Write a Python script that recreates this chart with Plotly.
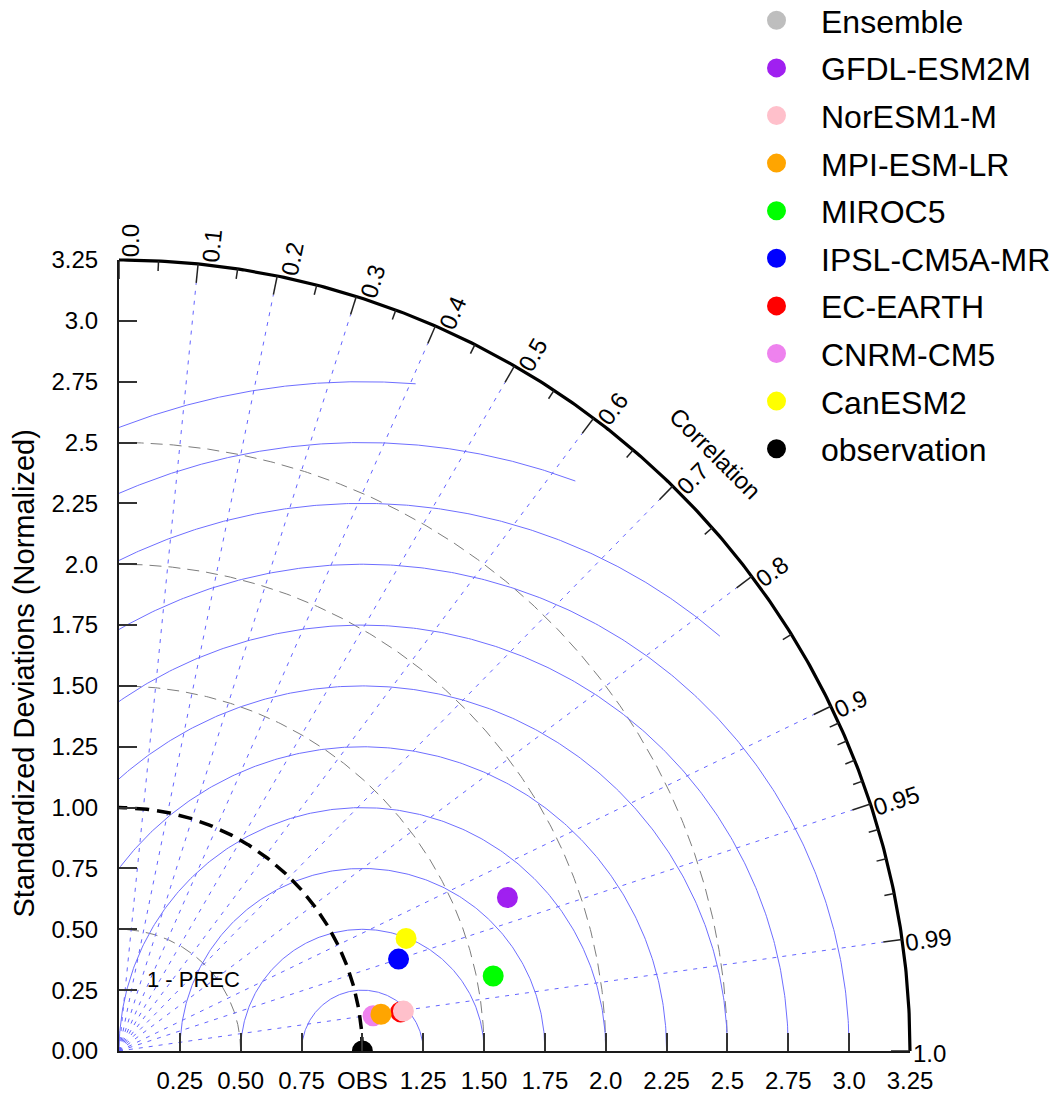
import numpy as np
import plotly.graph_objects as go

# ---------------- data (normalized standard deviation, correlation) ----------------
model_names = ["observation", "CanESM2", "CNRM-CM5", "EC-EARTH", "IPSL-CM5A-MR",
               "MIROC5", "MPI-ESM-LR", "NorESM1-M", "GFDL-ESM2M", "Ensemble"]
std_ratio = [1.000, 1.267, 1.054, 1.168, 1.209, 1.568, 1.087, 1.180, 1.716, None]
correlation = [1.000, 0.931, 0.9905, 0.9905, 0.950, 0.9805, 0.9903, 0.9903, 0.930, None]
model_colors = ["#000000", "#FFFF00", "#EE82EE", "#FF0000", "#0000FF",
                "#00FF00", "#FFA500", "#FFC0CB", "#A020F0", "#BEBEBE"]

# ---------------- axes / grid definitions ----------------
y_tick_vals = [0.0, 0.25, 0.5, 0.75, 1.0, 1.25, 1.5, 1.75, 2.0, 2.25, 2.5, 2.75, 3.0, 3.25]
y_tick_text = ["0.00", "0.25", "0.50", "0.75", "1.00", "1.25", "1.50", "1.75",
               "2.0", "2.25", "2.5", "2.75", "3.0", "3.25"]
x_tick_vals = [0.25, 0.5, 0.75, 1.0, 1.25, 1.5, 1.75, 2.0, 2.25, 2.5, 2.75, 3.0, 3.25]
x_tick_text = ["0.25", "0.50", "0.75", "OBS", "1.25", "1.50", "1.75",
               "2.0", "2.25", "2.5", "2.75", "3.0", "3.25"]
corr_major = [0.0, 0.1, 0.2, 0.3, 0.4, 0.5, 0.6, 0.7, 0.8, 0.9, 0.95, 0.99, 1.0]
corr_major_text = ["0.0", "0.1", "0.2", "0.3", "0.4", "0.5", "0.6", "0.7", "0.8",
                   "0.9", "0.95", "0.99", "1.0"]
corr_minor = [0.05, 0.15, 0.25, 0.35, 0.45, 0.55, 0.65, 0.75, 0.85,
              0.91, 0.92, 0.93, 0.94, 0.96, 0.97, 0.98]
corr_rays = [0.1, 0.2, 0.3, 0.4, 0.5, 0.6, 0.7, 0.8, 0.9, 0.95, 0.99]
rms_radii = [0.25, 0.5, 0.75, 1.0, 1.25, 1.5, 1.75, 2.0, 2.25, 2.5, 2.75]
rms_clip = 3.0
std_arcs = [0.5, 1.5, 2.0, 2.5]
std_ref = 1.0
R_MAX = 3.25

# ---------------- page geometry ----------------
W, H = 1058, 1097
OX, OY = 119.0, 1051.0          # pixel position of the origin
S = 791.0 / R_MAX               # pixels per unit
FONT = "Liberation Sans, Arial, Helvetica, sans-serif"

def px(v):
    return v / S

fig = go.Figure()

# ---------- decorations on the full-page axes (x, y) ----------
t = np.linspace(0, np.pi / 2, 300)

# gray dashed std arcs
gx, gy = [], []
for r in std_arcs:
    gx += list(r * np.cos(t)) + [None]
    gy += list(r * np.sin(t)) + [None]
fig.add_trace(go.Scatter(x=gx, y=gy, mode="lines", hoverinfo="skip", showlegend=False,
                         line=dict(color="rgb(125,125,125)", width=1, dash="12px,7px")))

# RMS arcs around OBS
bx, by = [], []
for r in rms_radii:
    phi_hi = np.pi if r <= 1 else np.arccos(-1.0 / r)
    c_lo = (rms_clip ** 2 - 1 - r ** 2) / (2 * r)
    phi_lo = 0.0 if c_lo >= 1 else np.arccos(c_lo)
    ph = np.linspace(phi_lo, phi_hi, 300)
    bx += list(1 + r * np.cos(ph)) + [None]
    by += list(r * np.sin(ph)) + [None]
fig.add_trace(go.Scatter(x=bx, y=by, mode="lines", hoverinfo="skip", showlegend=False,
                         line=dict(color="rgb(110,110,255)", width=1)))

# correlation rays
maj_len = px(19)
min_len = px(10)
rx, ry = [], []
for c in corr_rays:
    th = np.arccos(c)
    rx += [0, (R_MAX - maj_len) * np.cos(th), None]
    ry += [0, (R_MAX - maj_len) * np.sin(th), None]
fig.add_trace(go.Scatter(x=rx, y=ry, mode="lines", hoverinfo="skip", showlegend=False,
                         line=dict(color="rgb(100,100,255)", width=1, dash="4px,6px")))

# reference std arc (thick black dashed)
fig.add_trace(go.Scatter(x=std_ref * np.cos(t), y=std_ref * np.sin(t), mode="lines",
                         hoverinfo="skip", showlegend=False,
                         line=dict(color="black", width=3.5, dash="14px,8px")))

# outer arc
fig.add_trace(go.Scatter(x=R_MAX * np.cos(t), y=R_MAX * np.sin(t), mode="lines",
                         hoverinfo="skip", showlegend=False,
                         line=dict(color="black", width=3.2)))

# correlation ticks
tx, ty = [], []
for c in corr_major:
    th = np.arccos(c)
    tx += [(R_MAX - maj_len) * np.cos(th), R_MAX * np.cos(th), None]
    ty += [(R_MAX - maj_len) * np.sin(th), R_MAX * np.sin(th), None]
for c in corr_minor:
    th = np.arccos(c)
    tx += [(R_MAX - min_len) * np.cos(th), R_MAX * np.cos(th), None]
    ty += [(R_MAX - min_len) * np.sin(th), R_MAX * np.sin(th), None]
fig.add_trace(go.Scatter(x=tx, y=ty, mode="lines", hoverinfo="skip", showlegend=False,
                         line=dict(color="#222222", width=1.5)))

# ---------- model markers on the inner axes (x2, y2) ----------
n_models = len(model_names)
for i, (name, s, c, col) in enumerate(zip(model_names, std_ratio, correlation, model_colors)):
    if s is None:
        xs, ys = [None], [None]
    else:
        th = np.arccos(c)
        xs, ys = [s * np.cos(th)], [s * np.sin(th)]
    fig.add_trace(go.Scatter(x=xs, y=ys, mode="markers", name=name,
                             xaxis="x2", yaxis="y2", legendgroup=name,
                             legendrank=1000 + (n_models - i),
                             marker=dict(color=col, size=18, line=dict(color=col, width=3))))

# ---------- annotations ----------
ann = []
label_size = 24
for c, lab in zip(corr_major, corr_major_text):
    th = np.arccos(c)
    wpx = sum(0.278 if ch == "." else 0.556 for ch in lab) * label_size
    rc = R_MAX + px(2.5) + px(wpx) / 2
    perp = px(2 + 9.5 * np.sin(th))
    cx = rc * np.cos(th) + perp * np.sin(th)
    cy = rc * np.sin(th) - perp * np.cos(th)
    ann.append(dict(x=cx, y=cy, xref="x", yref="y", text=lab, showarrow=False,
                    textangle=-np.degrees(th), xanchor="center", yanchor="middle",
                    font=dict(size=label_size, color="black", family=FONT)))
ann.append(dict(x=2.451, y=2.457, xref="x", yref="y", text="Correlation", showarrow=False,
                textangle=45, xanchor="center", yanchor="middle",
                font=dict(size=24, color="black", family=FONT)))
ann.append(dict(x=0.308, y=0.292, xref="x", yref="y", text="1 - PREC", showarrow=False,
                xanchor="center", yanchor="middle",
                font=dict(size=22, color="black", family=FONT)))
ann.append(dict(x=23 / W, y=1 - 673.5 / H, xref="paper", yref="paper",
                text="Standardized Deviations (Normalized)", showarrow=False,
                textangle=-90, xanchor="center", yanchor="middle",
                font=dict(size=29, color="black", family=FONT)))

fig.update_layout(
    width=W, height=H,
    margin=dict(l=0, r=0, t=0, b=0, autoexpand=False),
    paper_bgcolor="white", plot_bgcolor="rgba(0,0,0,0)",
    font=dict(family=FONT, color="black"),
    showlegend=True,
    legend=dict(x=732 / W, y=1 + 7 / H, xanchor="left", yanchor="top",
                traceorder="grouped", tracegroupgap=3, itemwidth=79,
                font=dict(size=32, color="black", family=FONT),
                bgcolor="rgba(0,0,0,0)", borderwidth=0),
    annotations=ann,
    xaxis=dict(domain=[0, 1], range=[-OX / S, (W - OX) / S], visible=False, fixedrange=True),
    yaxis=dict(domain=[0, 1], range=[-(H - OY) / S, OY / S], visible=False, fixedrange=True),
    xaxis2=dict(domain=[OX / W, (OX + R_MAX * S) / W], range=[0, R_MAX], anchor="y2",
                showline=True, linewidth=2, linecolor="#1a1a1a", showgrid=False, zeroline=False,
                ticks="inside", ticklen=18, tickwidth=1.5, tickcolor="#333333",
                tickvals=x_tick_vals, ticktext=x_tick_text, ticklabelstandoff=7,
                tickfont=dict(size=24, color="black", family=FONT), fixedrange=True),
    yaxis2=dict(domain=[(H - OY) / H, (H - OY + R_MAX * S) / H], range=[0, R_MAX], anchor="x2",
                showline=True, linewidth=2, linecolor="#1a1a1a", showgrid=False, zeroline=False,
                ticks="inside", ticklen=18, tickwidth=1.5, tickcolor="#333333",
                tickvals=y_tick_vals, ticktext=y_tick_text, ticklabelstandoff=14,
                tickfont=dict(size=24, color="black", family=FONT), fixedrange=True),
)

fig.write_html("out.html")
